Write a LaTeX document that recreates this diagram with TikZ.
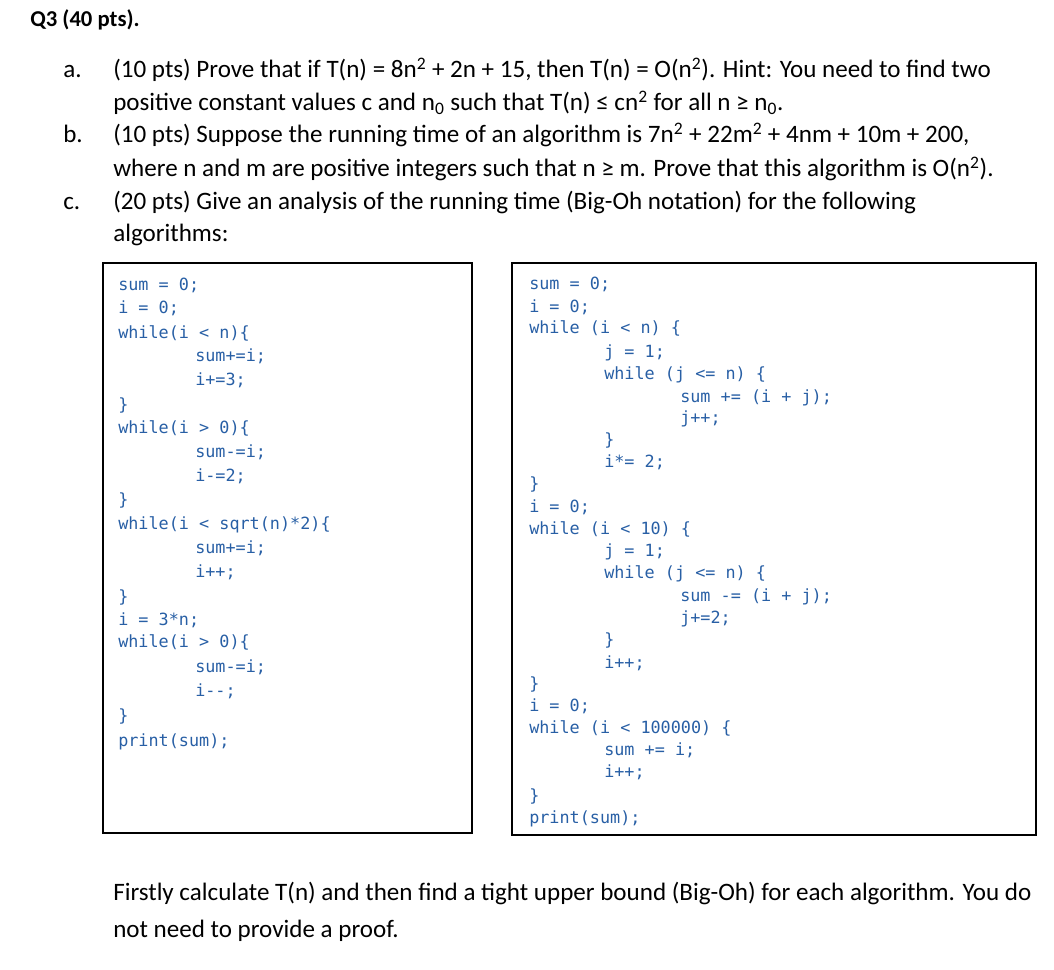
\documentclass[tikz,border=0pt]{standalone}
\usepackage{fontspec}
\setmainfont{Carlito}
\newfontfamily\codefont{DejaVu Sans Mono}
\definecolor{codeblue}{RGB}{40,95,165}
\begin{document}
\begin{tikzpicture}[x=0.75pt,y=-0.75pt,
  txt/.style={anchor=base west,inner sep=0pt,font=\fontsize{18.8}{20}\selectfont},
  code/.style={anchor=base west,inner sep=0pt,text=codeblue,font=\codefont\fontsize{12.6}{14}\selectfont},
  box/.style={draw,line width=0.9pt}]
\useasboundingbox (0,0) rectangle (1054,970);
\node[txt,font=\bfseries\fontsize{17}{18}\selectfont] (q) at (30,27) {Q3 (40 pts).};
\node[txt] (la) at (63,78) {a.};
\node[txt] (ta1) at (113,78) {(10 pts) Prove that if T(n) = 8n\textsuperscript{2} + 2n + 15, then T(n) = O(n\textsuperscript{2}). Hint: You need to find two};
\node[txt] (ta2) at (113,111) {positive constant values c and n\textsubscript{0} such that T(n) ≤ cn\textsuperscript{2} for all n ≥ n\textsubscript{0}.};
\node[txt] (lb) at (63,143) {b.};
\node[txt] (tb1) at (113,143) {(10 pts) Suppose the running time of an algorithm is 7n\textsuperscript{2} + 22m\textsuperscript{2} + 4nm + 10m + 200,};
\node[txt] (tb2) at (113,177) {where n and m are positive integers such that n ≥ m. Prove that this algorithm is O(n\textsuperscript{2}).};
\node[txt] (lc) at (63,210) {c.};
\node[txt] (tc1) at (113,210) {(20 pts) Give an analysis of the running time (Big-Oh notation) for the following};
\node[txt] (tc2) at (113,242) {algorithms:};
\draw[box] (103,263) rectangle (472,833);
\draw[box] (512,263) rectangle (1036,835);
% left code
\foreach \t/\x/\y in {{sum = 0;}/118/291,{i = 0;}/118/313,{while(i < n)\{}/118/338,{sum+=i;}/195/361,{i+=3;}/195/385,
 {\}}/118/410,{while(i > 0)\{}/118/433,{sum-=i;}/195/457,{i-=2;}/195/481,{\}}/118/505,{while(i < sqrt(n)*2)\{}/118/529,
 {sum+=i;}/195/553,{i++;}/195/577,{\}}/118/602,{i = 3*n;}/118/625,{while(i > 0)\{}/118/647,{sum-=i;}/195/672,{i-{}-;}/195/696,
 {\}}/118/721,{print(sum);}/118/746}
 \node[code] at (\x,\y) {\t};
% right code
\foreach \t/\x/\y in {{sum = 0;}/529/290,{i = 0;}/529/312,{while (i < n) \{}/529/334,{j = 1;}/604/357,{while (j <= n) \{}/604/379,
 {sum += (i + j);}/680/402,{j++;}/680/423,{\}}/604/445,{i*= 2;}/604/467,{\}}/529/489,{i = 0;}/529/512,{while (i < 10) \{}/529/534,
 {j = 1;}/604/556,{while (j <= n) \{}/604/578,{sum -= (i + j);}/680/601,{j+=2;}/680/623,{\}}/604/645,{i++;}/604/668,{\}}/529/689,
 {i = 0;}/529/711,{while (i < 100000) \{}/529/733,{sum += i;}/604/755,{i++;}/604/777,{\}}/529/801,{print(sum);}/529/823}
 \node[code] at (\x,\y) {\t};
\node[txt] (f1) at (113,900) {Firstly calculate T(n) and then find a tight upper bound (Big-Oh) for each algorithm. You do};
\node[txt] (f2) at (113,937) {not need to provide a proof.};
\end{tikzpicture}
\end{document}
